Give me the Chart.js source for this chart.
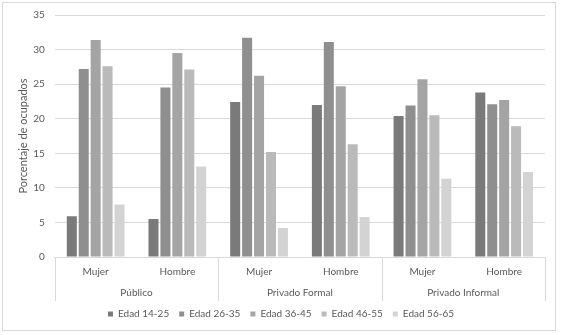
<!DOCTYPE html>
<html>
<head>
<meta charset="utf-8">
<script src="https://cdn.jsdelivr.net/npm/chart.js"></script>
<style>
  html, body { margin: 0; padding: 0; background: #fff; }
  #wrap { position: relative; width: 563px; height: 335px; }
  #frame { position: absolute; left: 2px; top: 2px; width: 552px; height: 327px; border: 1px solid #d9d9d9; pointer-events: none; }
</style>
</head>
<body>
<div id="wrap">
  <canvas id="chart" width="563" height="335"></canvas>
  <div id="frame"></div>
</div>
<script>
var sexLabels = ["Mujer", "Hombre", "Mujer", "Hombre", "Mujer", "Hombre"];
var groupLabels = ["Público", "Privado Formal", "Privado Informal"];
var yTicks = [0, 5, 10, 15, 20, 25, 30, 35];

var edad1425 = [5.9, 5.5, 22.4, 22.0, 20.4, 23.8];
var edad2635 = [27.2, 24.5, 31.7, 31.1, 21.9, 22.1];
var edad3645 = [31.4, 29.5, 26.2, 24.7, 25.7, 22.7];
var edad4655 = [27.6, 27.1, 15.2, 16.3, 20.5, 18.9];
var edad5665 = [7.6, 13.1, 4.2, 5.8, 11.3, 12.3];

var txt = "#595959";
var fontFam = "Lato, 'Open Sans', sans-serif";

function serie(label, data, color) {
  return { label: label, data: data, backgroundColor: color, borderWidth: 0,
           categoryPercentage: 0.73, barPercentage: 0.84 };
}

// vertical separators between the groups, spanning both label rows
var dividers = {
  id: "dividers",
  afterDraw: function (chart) {
    var x = chart.scales.x, g = chart.scales.group;
    var ctx = chart.ctx;
    var step = (x.right - x.left) / sexLabels.length;
    ctx.save();
    ctx.strokeStyle = "#d9d9d9";
    ctx.lineWidth = 1;
    for (var i = 0; i <= sexLabels.length; i += 2) {
      var px = Math.round(x.left + i * step) + 0.5;
      ctx.beginPath();
      ctx.moveTo(px, x.top);
      ctx.lineTo(px, g.bottom + 2);
      ctx.stroke();
    }
    ctx.restore();
  }
};

new Chart(document.getElementById("chart"), {
  type: "bar",
  data: {
    labels: sexLabels,
    datasets: [
      serie("Edad 14-25", edad1425, "#7a7a7a"),
      serie("Edad 26-35", edad2635, "#8f8f8f"),
      serie("Edad 36-45", edad3645, "#a4a4a4"),
      serie("Edad 46-55", edad4655, "#bababa"),
      serie("Edad 56-65", edad5665, "#d3d3d3")
    ]
  },
  options: {
    responsive: false,
    animation: false,
    layout: { padding: { left: 17, right: 18, top: 15, bottom: 6 } },
    plugins: {
      tooltip: { enabled: false },
      legend: {
        position: "bottom",
        labels: { boxWidth: 5, boxHeight: 5, padding: 10, color: txt,
                  font: { family: fontFam, size: 10 } }
      }
    },
    scales: {
      x: {
        grid: { display: false, drawTicks: false },
        border: { display: true, color: "#d9d9d9" },
        ticks: { color: txt, padding: 9, font: { family: fontFam, size: 10 } }
      },
      group: {
        type: "category",
        labels: groupLabels,
        position: "bottom",
        offset: true,
        grid: { display: false, drawTicks: false },
        border: { display: false },
        ticks: { color: txt, padding: 0, font: { family: fontFam, size: 10 } }
      },
      y: {
        min: 0,
        max: 35,
        afterBuildTicks: function (s) { s.ticks = yTicks.map(function (v) { return { value: v }; }); },
        grid: { color: "#d9d9d9", drawTicks: true, tickLength: 7, tickColor: "rgba(0,0,0,0)" },
        border: { display: false },
        ticks: { color: txt, padding: 3, font: { family: fontFam, size: 10 } },
        title: { display: true, text: "Porcentaje de ocupados", color: txt, padding: 0,
                 font: { family: fontFam, size: 11 } }
      }
    }
  },
  plugins: [dividers]
});
</script>
</body>
</html>
